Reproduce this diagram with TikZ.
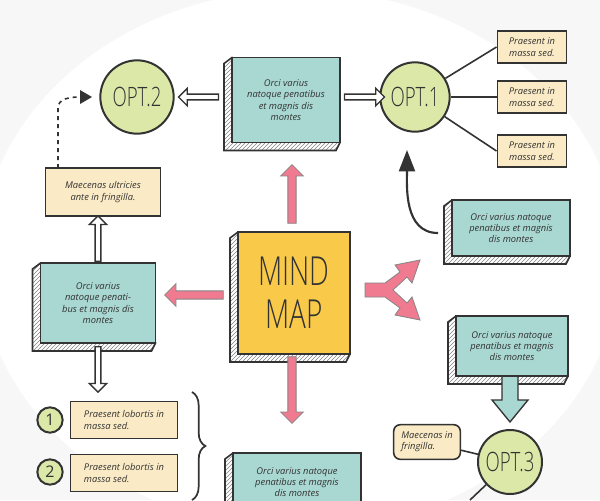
\documentclass[tikz,border=0pt]{standalone}
\usepackage{fontspec}
\setmainfont{Open Sans}
\newfontfamily\narrowf{Open Sans Light}[FakeStretch=0.7]
\usetikzlibrary{patterns,shapes.arrows,calc,decorations.pathreplacing,arrows.meta}
\definecolor{teal}{HTML}{A9D7D2}
\definecolor{beige}{HTML}{FAEBC6}
\definecolor{lgreen}{HTML}{DCE8A8}
\definecolor{myellow}{HTML}{F9C94A}
\definecolor{mpink}{HTML}{F07A90}
\definecolor{ink}{HTML}{333333}
\newcommand\skbox[8][]{%
  \fill[pattern=north east lines,pattern color=ink] ({#3-#5/2},{#4-#6/2}) -- ({#3-#5/2-8},{#4-#6/2+6}) -- ({#3-#5/2-8},{#4+#6/2+8}) -- ({#3+#5/2-4},{#4+#6/2+8}) -- ({#3+#5/2},{#4+#6/2}) -- cycle;
  \draw[ink,line width=1.2pt,fill=white,fill opacity=0.4] ({#3-#5/2},{#4-#6/2}) -- ({#3-#5/2-8},{#4-#6/2+6}) -- ({#3-#5/2-8},{#4+#6/2+8}) -- ({#3+#5/2-4},{#4+#6/2+8}) -- ({#3+#5/2},{#4+#6/2}) -- cycle;
  \node[box,fill=#7,minimum width={#5*0.75pt},minimum height={#6*0.75pt},#1] (#2) at (#3,#4) {#8};}
\begin{document}
\begin{tikzpicture}[x=0.75pt,y=-0.75pt,
  every node/.style={text=ink,font=\fontsize{7}{8.5}\selectfont\itshape},
  box/.style={draw=ink,line width=1.2pt,inner sep=2pt,align=center},
  circ/.style={circle,draw=ink,line width=1.5pt,fill=lgreen,inner sep=0pt,font=\narrowf\fontsize{20}{20}\selectfont},
  harrow/.style={single arrow,draw=ink,line width=1pt,fill=white,minimum height=30pt,minimum width=13pt,single arrow head extend=3pt,inner sep=1pt},
  parrow/.style={single arrow,draw=ink!60,line width=0.6pt,fill=mpink,minimum height=44pt,minimum width=17pt,single arrow head extend=4pt,inner sep=2pt},
  line/.style={ink,line width=1.2pt}]
\useasboundingbox (0,0) rectangle (600,500);
\clip (0,0) rectangle (600,500);
\fill[gray!6] (0,0) rectangle (600,500);
\fill[white] (300,260) ellipse (320 and 270);
% nodes
\node[circ,minimum size=55pt] (opt2) at (137,97) {OPT.2};
\node[circ,minimum size=52pt] (opt1) at (415,97) {OPT.1};
\node[circ,minimum size=48pt] (opt3) at (510,462) {OPT.3};
\skbox{top}{286}{100}{108}{85}{teal}{Orci varius\\natoque penatibus\\et magnis dis\\montes}
\skbox[font=\narrowf\fontsize{30}{32}\selectfont]{mind}{294}{293}{112}{122}{myellow}{MIND\\MAP}
\skbox{left}{98}{303}{115}{80}{teal}{Orci varius\\natoque penati-\\bus et magnis dis\\montes}
\skbox{right}{511}{228}{118}{56}{teal}{Orci varius natoque\\penatibus et magnis\\dis montes}
\skbox{right2}{512}{346}{112}{60}{teal}{Orci varius natoque\\penatibus et magnis\\dis montes}
\skbox{bot}{297}{482}{128}{58}{teal}{Orci varius natoque\\penatibus et magnis\\dis montes}
\node[box,fill=beige,minimum width=52pt,minimum height=24pt] (p1) at (532,47) {Praesent in\\massa sed.};
\node[box,fill=beige,minimum width=52pt,minimum height=24pt] (p2) at (532,97) {Praesent in\\massa sed.};
\node[box,fill=beige,minimum width=52pt,minimum height=24pt] (p3) at (532,151) {Praesent in\\massa sed.};
\node[box,fill=beige,minimum width=86pt,minimum height=36pt] (mae) at (103,192) {Maecenas ultricies\\ante in fringilla.};
\node[box,fill=beige,minimum width=80pt,minimum height=28pt,align=left] (l1) at (124,420) {Praesent lobortis in\\massa sed.};
\node[box,fill=beige,minimum width=80pt,minimum height=28pt,align=left] (l2) at (124,473) {Praesent lobortis in\\massa sed.};
\node[circ,minimum size=19pt,font=\fontsize{12}{12}\selectfont] (n1) at (50,420) {1};
\node[circ,minimum size=19pt,font=\fontsize{12}{12}\selectfont] (n2) at (50,472) {2};
\node[box,fill=beige,rounded corners=5pt,minimum width=50pt,minimum height=26pt,align=left] (mf) at (427,442) {Maecenas in\\fringilla.};
% connectors
\draw[line] (opt1) -- (p1.west);
\draw[line] (opt1) -- (p2.west);
\draw[line] (opt1) -- (p3.west);
\draw[line] (mf) -- (opt3);
\draw[line] (opt3) -- (470,500);
\node[harrow,rotate=180] (a1) at (200,97) {};
\node[harrow] (a2) at (363,97) {};
\node[harrow,rotate=90,minimum height=34pt] (a3) at (98,240) {};
\node[harrow,rotate=-90,minimum height=34pt] (a4) at (98,368) {};
\draw[ink,line width=1.2pt,dashed] (58,168) -- (58,108) to[out=90,in=180] (80,97) coordinate (d1);
\fill[ink] (d1) ++(0,-7) -- ++(12,7) -- ++(-12,7) -- cycle;
\node[parrow,rotate=90] (u) at (292,196) {};
\node[parrow,rotate=180] (lft) at (196,295) {};
\node[parrow,rotate=-90,minimum height=50pt] (dn) at (292,388) {};
\draw[ink!60,line width=0.6pt,fill=mpink] (365,283) -- (385,283) -- (400,272) -- (395,265) -- (420,260) -- (412,283) -- (407,277) -- (393,290) -- (407,303) -- (412,297) -- (420,320) -- (395,315) -- (400,308) -- (385,297) -- (365,297) -- cycle;
\draw[ink,line width=1.6pt,-{Triangle[width=12pt,length=16pt]}] (438,233) to[out=180,in=-90] (407,150);
\draw[ink,line width=1pt,fill=teal] (502,377) -- (502,400) -- (492,400) -- (510,422) -- (528,400) -- (518,400) -- (518,377);
\draw[decorate,decoration={brace,amplitude=10pt},line width=1.3pt,ink] (192,392) -- (192,500);
\end{tikzpicture}
\end{document}
